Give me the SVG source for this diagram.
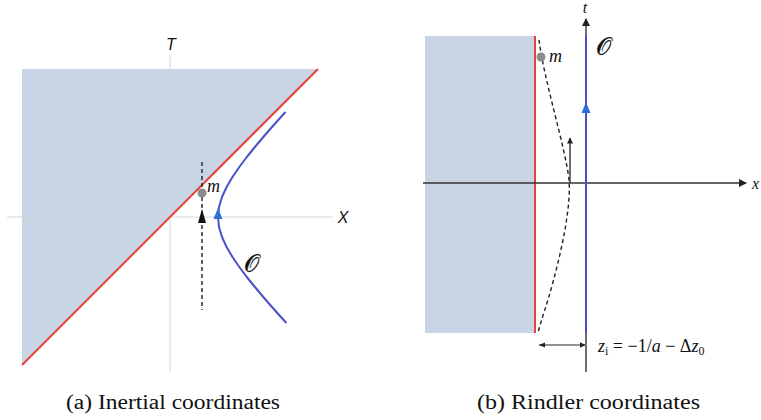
<svg xmlns="http://www.w3.org/2000/svg" width="761" height="420" viewBox="0 0 761 420">
<style>
.shade{fill:#c9d5e5}
.red{stroke:#e8413b;stroke-width:2;fill:none}
.blue{stroke:#4b4fc8;stroke-width:2;fill:none;stroke-linejoin:round}
.faint{stroke:#d3d8de;stroke-width:1;fill:none}
.ax{stroke:#333;stroke-width:1.4;fill:none}
.dash{stroke:#222;stroke-width:1.4;fill:none;stroke-dasharray:4 3}
.scr{font-style:normal;font-size:24px;stroke:#111;stroke-width:0.25}
</style>
<defs>
<marker id="ah" markerWidth="8" markerHeight="8" refX="7" refY="4" orient="auto" markerUnits="userSpaceOnUse"><path d="M0,0 L8,4 L0,8 z" fill="#222"/></marker>
<marker id="ahs" markerWidth="6" markerHeight="6" refX="5.5" refY="3" orient="auto" markerUnits="userSpaceOnUse"><path d="M0,0 L6,3 L0,6 z" fill="#222"/></marker>
</defs>

<!-- Panel (a) -->
<g id="a-region">
<polygon class="shade" points="22,69 318,69 22,365"/>
</g>
<g id="a-axes" font-family="Liberation Sans, Arial, sans-serif" font-style="italic" font-size="16" fill="#111">
<line class="faint" x1="170" y1="55" x2="170" y2="372"/>
<line class="faint" x1="7" y1="217" x2="333" y2="217"/>
<text x="171" y="50" text-anchor="middle">T</text>
<text x="343" y="223" text-anchor="middle">X</text>
</g>
<g id="a-horizon">
<line class="red" x1="318" y1="69" x2="22" y2="365"/>
</g>

<!-- Panel (b) -->
<g id="b-region">
<rect class="shade" x="425" y="36" width="110" height="297"/>
<line class="red" x1="535" y1="36" x2="535" y2="333"/>
</g>
<g id="b-axes" font-family="Liberation Serif, Times New Roman, serif" font-style="italic" fill="#111" font-size="16">
<line class="ax" x1="586" y1="372" x2="586" y2="19" marker-end="url(#ah)"/>
<line class="ax" x1="423" y1="183" x2="746" y2="183" marker-end="url(#ah)"/>
<text x="585" y="13" text-anchor="middle">t</text>
<text x="752" y="189">x</text>
</g>

<g id="connectors">
<line class="dash" x1="202" y1="162" x2="202" y2="310"/>
<path d="M202,209 L206,223 L198,223 z" fill="#111"/>
<path class="dash" d="M539,40 C544,80 566,150 569,180 C571,205 563,245 553,282 C547,305 541,320 538,333"/>
<line class="ax" x1="570" y1="183" x2="570" y2="138" marker-end="url(#ahs)"/>
<line stroke="#222" stroke-width="1" x1="539" y1="345" x2="585" y2="345" marker-end="url(#ahs)"/>
<path d="M539,345 L545,342.5 L545,347.5 z" fill="#222"/>
</g>

<g id="a-observer" font-family="Liberation Serif, Times New Roman, serif" font-style="italic" fill="#111">
<polyline class="blue" points="285.5,112 280.9,117 272,127 263.3,137 254.9,147 246.8,157 239.3,167 232.5,177 226.6,187 222,197 219,207 218,217 219,227 222,237 226.6,247 232.5,257 239.3,267 246.8,277 254.9,287 263.3,297 272,307 280.9,317 286.4,323"/>
<path d="M218,208 L222.5,219 L213.5,219 z" fill="#2d6fd2"/>
<text class="scr" x="251" y="272" text-anchor="middle">𝒪</text>
</g>
<g id="a-mass" font-family="Liberation Serif, Times New Roman, serif" font-style="italic" fill="#111">
<circle cx="202" cy="193" r="4.5" fill="#8c8c8c"/>
<text x="207" y="192" font-size="18">m</text>
</g>
<g id="b-observer" font-family="Liberation Serif, Times New Roman, serif" font-style="italic" fill="#111">
<line class="blue" x1="586" y1="36" x2="586" y2="333"/>
<path d="M586,102 L590.5,113 L581.5,113 z" fill="#2d6fd2"/>
<text class="scr" x="596" y="55">𝒪</text>
</g>
<g id="b-mass" font-family="Liberation Serif, Times New Roman, serif" font-style="italic" fill="#111">
<circle cx="541" cy="57" r="4.5" fill="#8c8c8c"/>
<text x="549" y="62" font-size="18">m</text>
</g>
<g id="b-label" font-family="Liberation Serif, Times New Roman, serif" fill="#111">
<text x="598" y="352" font-size="18"><tspan font-style="italic">z</tspan><tspan font-size="12" dy="3">i</tspan><tspan dy="-3"> = −1/</tspan><tspan font-style="italic">a</tspan><tspan> − Δ</tspan><tspan font-style="italic">z</tspan><tspan font-size="12" dy="3">0</tspan></text>
</g>

<g id="captions" font-family="Liberation Serif, Times New Roman, serif" font-size="20" fill="#111">
<text x="66" y="409" textLength="214" lengthAdjust="spacingAndGlyphs">(a) Inertial coordinates</text>
<text x="477" y="409" textLength="223" lengthAdjust="spacingAndGlyphs">(b) Rindler coordinates</text>
</g>
</svg>
